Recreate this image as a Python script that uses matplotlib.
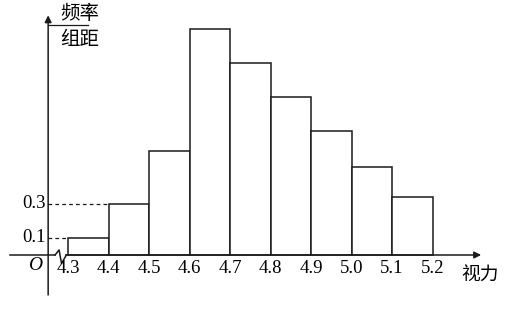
import matplotlib.pyplot as plt

plt.rcParams['font.family'] = ['Liberation Serif', 'Noto Sans CJK SC']

# data
bins = [4.3, 4.4, 4.5, 4.6, 4.7, 4.8, 4.9, 5.0, 5.1]
heights = [0.1, 0.3, 0.61, 1.33, 1.13, 0.93, 0.73, 0.52, 0.34]
xticks = [4.3, 4.4, 4.5, 4.6, 4.7, 4.8, 4.9, 5.0, 5.1, 5.2]
yticks = [0.1, 0.3]

ink = '#1a1a1a'
lw = 1.1

fig = plt.figure(figsize=(5.14, 3.13), dpi=100)
ax = fig.add_axes([0, 0, 1, 1])
ax.set_xlim(4.1321, 5.4012)
ax.set_ylim(-0.3412, 1.5)
ax.axis('off')

ax.bar(bins, heights, width=0.1, align='edge', color='white',
       edgecolor=ink, linewidth=lw, zorder=2)

x0 = 4.251  # y axis position
# x axis with break
ax.plot([4.157, 4.268], [0, 0], color=ink, lw=lw)
ax.plot([4.268, 4.278, 4.284, 4.296], [0, 0.03, -0.05, 0], color=ink, lw=lw)
ax.annotate('', xy=(5.32, 0), xytext=(4.294, 0),
            arrowprops=dict(arrowstyle='-|>', color=ink, lw=lw,
                            mutation_scale=10, shrinkA=0, shrinkB=0))
# y axis
ax.annotate('', xy=(x0, 1.41), xytext=(x0, -0.235),
            arrowprops=dict(arrowstyle='-|>', color=ink, lw=lw,
                            mutation_scale=10, shrinkA=0, shrinkB=0))

# dashed guides
for b, h in zip(bins, heights):
    if h in yticks:
        ax.plot([x0, b], [h, h], color=ink, lw=0.9, ls=(0, (3, 2.5)))

for t in yticks:
    ax.text(4.245, t, f'{t:.1f}', ha='right', va='center', fontsize=13.5)

for t in xticks:
    ax.text(t, -0.08, f'{t:.1f}', ha='center', va='center', fontsize=13.5)

ax.text(4.237, -0.06, 'O', ha='right', va='center', fontsize=14,
        style='italic')

ax.text(5.317, -0.118, '视力', ha='center', va='center', fontsize=13.5,
        family='Noto Sans CJK SC')
ax.text(4.33, 1.42, '频率', ha='center', va='center', fontsize=14,
        family='Noto Sans CJK SC')
ax.text(4.33, 1.27, '组距', ha='center', va='center', fontsize=14,
        family='Noto Sans CJK SC')
ax.plot([4.25, 4.349], [1.35, 1.35], color=ink, lw=0.9, zorder=5)

fig.savefig('out.png', dpi=100)
